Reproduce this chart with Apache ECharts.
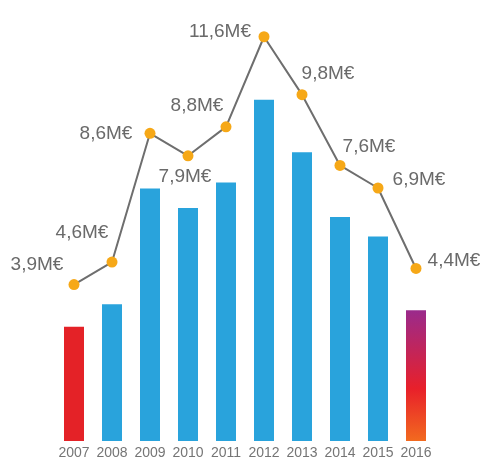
<!DOCTYPE html>
<html>
<head>
<meta charset="utf-8">
<script src="https://cdn.jsdelivr.net/npm/echarts@6/dist/echarts.min.js"></script>
<style>
html,body{margin:0;padding:0;background:#fff;}
#c{width:485px;height:460px;}
</style>
</head>
<body>
<div id="c"></div>
<script>
// Data
var years = ['2007','2008','2009','2010','2011','2012','2013','2014','2015','2016'];
var barValues = [3.8, 4.55, 8.4, 7.75, 8.6, 11.35, 9.6, 7.45, 6.8, 4.35];
var amounts = [3.9, 4.6, 8.6, 7.9, 8.8, 11.6, 9.8, 7.6, 6.9, 4.4];

// Label placement (style, offsets from point)
var labelOffsets = [[-37,-20],[-30,-29],[-44,0],[-3,21],[-29,-21],[-44,-5],[26,-21],[29,-19],[41,-8],[38,-8]];

var blue = '#29A3DC';
var red = '#E42227';
var grad2016 = new echarts.graphic.LinearGradient(0,0,0,1,[
  {offset:0,color:'#9A2A8C'},
  {offset:0.6,color:'#E8202A'},
  {offset:1,color:'#F26A1F'}
]);

function fmt(v){ return String(v.toFixed(1)).replace('.', ',') + 'M€'; }

var chart = echarts.init(document.getElementById('c'));
chart.setOption({
  animation:false,
  grid:{left:55,right:50,top:20,bottom:19},
  xAxis:{
    type:'category',
    data:years,
    axisLine:{show:false},
    axisTick:{show:false},
    axisLabel:{color:'#757575',fontFamily:'Liberation Sans, Arial, sans-serif',fontSize:14,margin:5,interval:0}
  },
  yAxis:[
    {type:'value',min:0,max:14,show:false},
    {type:'value',min:-0.96,max:12.12,show:false}
  ],
  series:[
    {
      type:'bar',
      yAxisIndex:0,
      barWidth:20,
      data:barValues.map(function(v,i){
        var c = i===0 ? red : (i===barValues.length-1 ? grad2016 : blue);
        return {value:v,itemStyle:{color:c}};
      })
    },
    {
      type:'line',
      yAxisIndex:1,
      symbol:'circle',
      symbolSize:11,
      itemStyle:{color:'#F6A817'},
      lineStyle:{color:'#6e6e6e',width:2},
      data:amounts.map(function(v,i){
        return {value:v,label:{offset:labelOffsets[i]}};
      }),
      label:{
        show:true,
        position:'inside',
        align:'center',
        verticalAlign:'middle',
        color:'#6a6a6a',
        fontFamily:'Liberation Sans, Arial, sans-serif',
        fontSize:19,
        formatter:function(p){return fmt(p.value);}
      },
      z:3
    }
  ]
});
</script>
</body>
</html>
